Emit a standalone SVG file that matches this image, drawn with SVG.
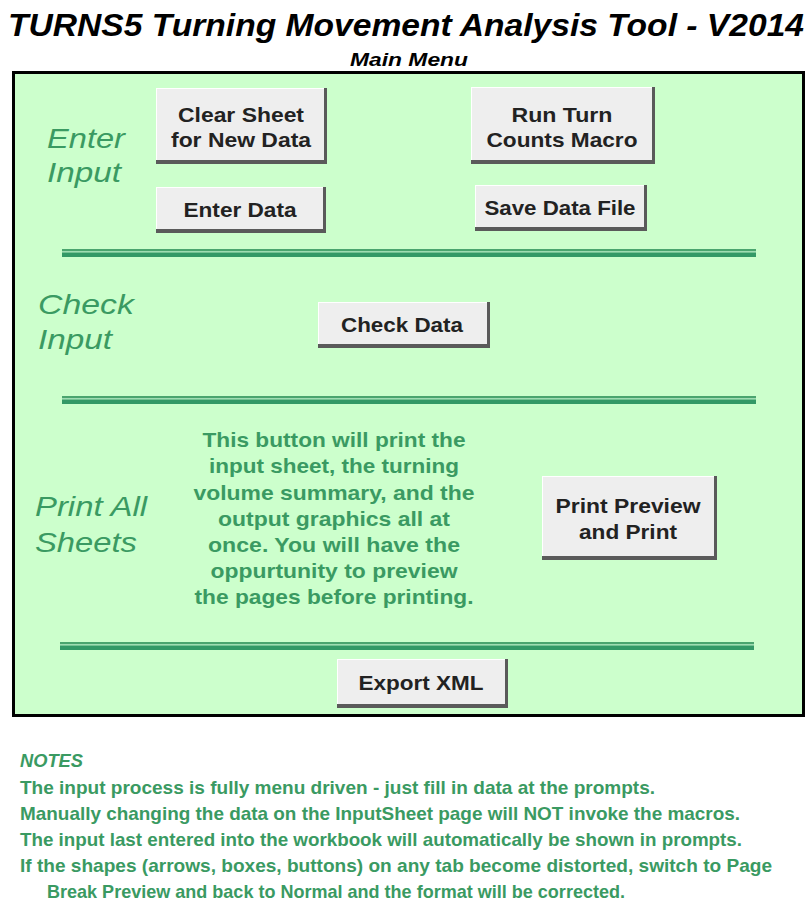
<svg xmlns="http://www.w3.org/2000/svg" width="811" height="915" viewBox="0 0 811 915">
<style>
.title{font-family:"Liberation Sans",Arial,sans-serif;font-weight:bold;font-style:italic;fill:#000}
.sec{font-family:"Liberation Sans",Arial,sans-serif;font-style:italic;font-size:28px;fill:#3a9a62}
.btn-t{font-family:"Liberation Sans",Arial,sans-serif;font-weight:bold;font-size:21px;fill:#222;text-anchor:middle}
.desc{font-family:"Liberation Sans Narrow","Liberation Sans",Arial,sans-serif;font-weight:bold;font-size:21px;fill:#3a9a62;text-anchor:middle}
.note{font-family:"Liberation Sans Narrow","Liberation Sans",Arial,sans-serif;font-weight:bold;font-size:19px;fill:#3a9a62}
.bface{fill:#eeeeee}
.bshade{fill:#5a5a5a}
.blight{fill:#ffffff}
</style>
<defs>
<g id="divider">
<rect x="0" y="0" width="694" height="2" fill="#4aa56e"/>
<rect x="0" y="2" width="694" height="1.5" fill="#9fdcb2"/>
<rect x="0" y="3.5" width="694" height="4.5" fill="#339966"/>
</g>
</defs>
<rect width="811" height="915" fill="#ffffff"/>
<text class="title" x="8" y="36" font-size="32" textLength="796" lengthAdjust="spacingAndGlyphs">TURNS5 Turning Movement Analysis Tool - V2014</text>
<text class="title" x="350" y="66" font-size="18" textLength="118" lengthAdjust="spacingAndGlyphs">Main Menu</text>
<g id="panel">
<rect x="13.5" y="72.5" width="790" height="643" fill="#ccffcc" stroke="#000" stroke-width="3"/>
</g>
<g id="dividers">
<use href="#divider" x="62" y="249"/>
<use href="#divider" x="62" y="396"/>
<use href="#divider" x="60" y="642"/>
</g>
<g id="labels">
<text class="sec" x="47" y="148" textLength="78" lengthAdjust="spacingAndGlyphs">Enter</text>
<text class="sec" x="47" y="182" textLength="74" lengthAdjust="spacingAndGlyphs">Input</text>
<text class="sec" x="38" y="314" textLength="96" lengthAdjust="spacingAndGlyphs">Check</text>
<text class="sec" x="38" y="349" textLength="74" lengthAdjust="spacingAndGlyphs">Input</text>
<text class="sec" x="35" y="516" textLength="112" lengthAdjust="spacingAndGlyphs">Print All</text>
<text class="sec" x="35" y="552" textLength="102" lengthAdjust="spacingAndGlyphs">Sheets</text>
</g>
<g id="btn-clear">
<rect class="bshade" x="156" y="88" width="171" height="76"/>
<rect class="blight" x="156" y="88" width="168" height="72"/>
<rect class="bface" x="157" y="89" width="167" height="71"/>
<text class="btn-t" x="241" y="122" textLength="126" lengthAdjust="spacingAndGlyphs">Clear Sheet</text>
<text class="btn-t" x="241" y="147" textLength="140" lengthAdjust="spacingAndGlyphs">for New Data</text>
</g>
<g id="btn-run">
<rect class="bshade" x="471" y="87" width="184" height="77"/>
<rect class="blight" x="471" y="87" width="181" height="73"/>
<rect class="bface" x="472" y="88" width="180" height="72"/>
<text class="btn-t" x="562" y="122" textLength="101" lengthAdjust="spacingAndGlyphs">Run Turn</text>
<text class="btn-t" x="562" y="147" textLength="151" lengthAdjust="spacingAndGlyphs">Counts  Macro</text>
</g>
<g id="btn-enter">
<rect class="bshade" x="156" y="187" width="170" height="46"/>
<rect class="blight" x="156" y="187" width="167" height="42"/>
<rect class="bface" x="157" y="188" width="166" height="41"/>
<text class="btn-t" x="240" y="217" textLength="113" lengthAdjust="spacingAndGlyphs">Enter Data</text>
</g>
<g id="btn-save">
<rect class="bshade" x="475" y="185" width="172" height="46"/>
<rect class="blight" x="475" y="185" width="169" height="42"/>
<rect class="bface" x="476" y="186" width="168" height="41"/>
<text class="btn-t" x="560" y="215" textLength="151" lengthAdjust="spacingAndGlyphs">Save Data File</text>
</g>
<g id="btn-check">
<rect class="bshade" x="318" y="302" width="172" height="46"/>
<rect class="blight" x="318" y="302" width="169" height="42"/>
<rect class="bface" x="319" y="303" width="168" height="41"/>
<text class="btn-t" x="402" y="332" textLength="122" lengthAdjust="spacingAndGlyphs">Check Data</text>
</g>
<g id="desc">
<text class="desc" x="334" y="447" textLength="263" lengthAdjust="spacingAndGlyphs">This button will print the</text>
<text class="desc" x="334" y="473" textLength="250" lengthAdjust="spacingAndGlyphs">input sheet, the turning</text>
<text class="desc" x="334" y="500" textLength="281" lengthAdjust="spacingAndGlyphs">volume summary, and the</text>
<text class="desc" x="334" y="526" textLength="232" lengthAdjust="spacingAndGlyphs">output graphics all at</text>
<text class="desc" x="334" y="552" textLength="252" lengthAdjust="spacingAndGlyphs">once. You will have the</text>
<text class="desc" x="334" y="578" textLength="247" lengthAdjust="spacingAndGlyphs">oppurtunity to preview</text>
<text class="desc" x="334" y="604" textLength="279" lengthAdjust="spacingAndGlyphs">the pages before printing.</text>
</g>
<g id="btn-print">
<rect class="bshade" x="542" y="476" width="175" height="84"/>
<rect class="blight" x="542" y="476" width="172" height="80"/>
<rect class="bface" x="543" y="477" width="171" height="79"/>
<text class="btn-t" x="628" y="513" textLength="145" lengthAdjust="spacingAndGlyphs">Print Preview</text>
<text class="btn-t" x="628" y="539" textLength="98" lengthAdjust="spacingAndGlyphs">and Print</text>
</g>
<g id="btn-export">
<rect class="bshade" x="337" y="659" width="171" height="49"/>
<rect class="blight" x="337" y="659" width="168" height="45"/>
<rect class="bface" x="338" y="660" width="167" height="44"/>
<text class="btn-t" x="421" y="690" textLength="125" lengthAdjust="spacingAndGlyphs">Export XML</text>
</g>
<g id="notes">
<text class="note" x="20" y="767" font-style="italic" textLength="63" lengthAdjust="spacingAndGlyphs">NOTES</text>
<text class="note" x="20" y="794" textLength="635" lengthAdjust="spacingAndGlyphs">The input process is fully menu driven - just fill in data at the prompts.</text>
<text class="note" x="20" y="820" textLength="720" lengthAdjust="spacingAndGlyphs">Manually changing the data on the InputSheet page will NOT invoke the macros.</text>
<text class="note" x="20" y="846" textLength="722" lengthAdjust="spacingAndGlyphs">The input last entered into the workbook will automatically be shown in prompts.</text>
<text class="note" x="20" y="872" textLength="752" lengthAdjust="spacingAndGlyphs">If the shapes (arrows, boxes, buttons) on any tab become distorted, switch to Page</text>
<text class="note" x="47" y="898" textLength="578" lengthAdjust="spacingAndGlyphs">Break Preview and back to Normal and the format will be corrected.</text>
</g>
</svg>
